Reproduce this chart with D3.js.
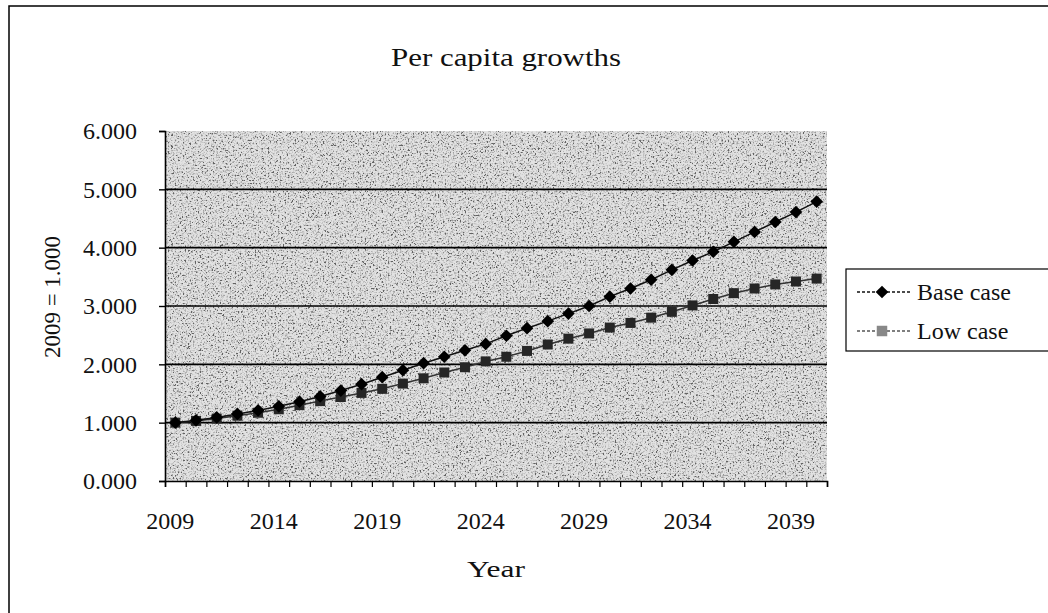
<!DOCTYPE html>
<html>
<head>
<meta charset="utf-8">
<script src="https://cdn.jsdelivr.net/npm/d3@7"></script>
<style>
  body { margin: 0; background: #fff; }
  text { font-family: "Liberation Serif", "Times New Roman", serif; }
</style>
</head>
<body>
<script>
var w = 1048;
var h = 613;

// data
var years = [2009, 2010, 2011, 2012, 2013, 2014, 2015, 2016, 2017, 2018,
             2019, 2020, 2021, 2022, 2023, 2024, 2025, 2026, 2027, 2028,
             2029, 2030, 2031, 2032, 2033, 2034, 2035, 2036, 2037, 2038,
             2039, 2040];
var baseCase = [1.00, 1.04, 1.09, 1.15, 1.21, 1.28, 1.36, 1.45, 1.55, 1.66,
                1.78, 1.90, 2.02, 2.13, 2.24, 2.35, 2.49, 2.62, 2.74, 2.87,
                3.00, 3.16, 3.30, 3.45, 3.62, 3.78, 3.93, 4.10, 4.27, 4.44,
                4.61, 4.79];
var lowCase = [1.00, 1.03, 1.07, 1.12, 1.17, 1.23, 1.30, 1.37, 1.44, 1.51,
               1.58, 1.67, 1.76, 1.86, 1.95, 2.05, 2.13, 2.23, 2.34, 2.44,
               2.53, 2.63, 2.71, 2.80, 2.90, 3.01, 3.12, 3.22, 3.30, 3.37,
               3.42, 3.47];
var xTickLabels = [2009, 2014, 2019, 2024, 2029, 2034, 2039];
var yTicks = [0, 1, 2, 3, 4, 5, 6];
var gridValues = [1, 2, 3, 4, 5];
var seriesNames = ["Base case", "Low case"];

// plot box ("top" is taken by window.top, so other names)
var pLeft = 165, pRight = 827, pTop = 131, pBottom = 481;

var svg = d3.select("body")
            .append("svg")
            .attr("width", w)
            .attr("height", h);

var defs = svg.append("defs");
var grain = defs.append("filter")
            .attr("id", "grain")
            .attr("x", 0).attr("y", 0)
            .attr("width", "100%").attr("height", "100%");
grain.append("feTurbulence")
     .attr("type", "fractalNoise")
     .attr("baseFrequency", "0.6")
     .attr("numOctaves", 2)
     .attr("seed", 7);
grain.append("feColorMatrix")
     .attr("type", "matrix")
     .attr("values", "2.4 2.4 2.4 0 -2.75  2.4 2.4 2.4 0 -2.75  2.4 2.4 2.4 0 -2.75  0 0 0 0 1");

// outer frame of the chart
svg.append("rect")
   .attr("x", 9).attr("y", 6)
   .attr("width", 1060).attr("height", 640)
   .attr("fill", "none")
   .attr("stroke", "#000")
   .attr("stroke-width", 1.5);

var x = d3.scaleBand().domain(years).range([pLeft, pRight]);
var xEdge = d3.scaleLinear().domain([0, years.length]).range([pLeft, pRight]);
var y = d3.scaleLinear().domain([0, 6]).range([pBottom, pTop]);

// plot area fill
svg.append("rect")
   .attr("x", pLeft).attr("y", pTop)
   .attr("width", pRight - pLeft).attr("height", pBottom - pTop)
   .attr("fill", "#c6c6c6");
svg.append("rect")
   .attr("x", pLeft).attr("y", pTop)
   .attr("width", pRight - pLeft).attr("height", pBottom - pTop)
   .attr("filter", "url(#grain)")
   .attr("opacity", 0.5);

// grid lines
svg.append("g")
   .selectAll("line")
   .data(gridValues)
   .enter()
   .append("line")
   .attr("x1", pLeft).attr("x2", pRight)
   .attr("y1", function(d){ return y(d); })
   .attr("y2", function(d){ return y(d); })
   .attr("stroke", "#000")
   .attr("stroke-width", 1.6);

// y axis
var yAxis = svg.append("g")
   .attr("transform", "translate(" + pLeft + ",0)")
   .call(d3.axisLeft(y).tickValues(yTicks).tickFormat(d3.format(".3f")).tickSize(6).tickPadding(22));
yAxis.select(".domain").attr("stroke-width", 1.6);
yAxis.selectAll(".tick line").attr("stroke-width", 1.4);
yAxis.selectAll("text").attr("font-size", 24).attr("font-family", "Liberation Serif").attr("fill", "#111");

// x axis: ticks at category edges, labels at category centres
var xAxisTicks = svg.append("g")
   .attr("transform", "translate(0," + pBottom + ")")
   .call(d3.axisBottom(xEdge).tickValues(d3.range(0, years.length + 1)).tickFormat("").tickSize(6));
xAxisTicks.select(".domain").attr("stroke-width", 1.6);
xAxisTicks.selectAll(".tick line").attr("stroke-width", 1.2);

var xAxisLabels = svg.append("g")
   .attr("transform", "translate(0," + pBottom + ")")
   .call(d3.axisBottom(x).tickValues(xTickLabels).tickSize(0).tickPadding(31));
xAxisLabels.select(".domain").remove();
xAxisLabels.selectAll("text")
   .attr("font-size", 24).attr("font-family", "Liberation Serif").attr("fill", "#111")
   .attr("dx", -5);

// series
var cx = function(i){ return x(years[i]) + x.bandwidth() / 2; };
var line = d3.line()
   .x(function(d, i){ return cx(i); })
   .y(function(d){ return y(d); });

svg.append("path")
   .datum(lowCase)
   .attr("d", line)
   .attr("fill", "none")
   .attr("stroke", "#333")
   .attr("stroke-width", 1.5);

svg.append("path")
   .datum(baseCase)
   .attr("d", line)
   .attr("fill", "none")
   .attr("stroke", "#111")
   .attr("stroke-width", 1.5);

svg.append("g")
   .selectAll("path")
   .data(lowCase)
   .enter()
   .append("path")
   .attr("transform", function(d, i){ return "translate(" + cx(i) + "," + y(d) + ")"; })
   .attr("d", d3.symbol().type(d3.symbolSquare).size(100))
   .attr("fill", "#262626");

// diamonds as squares turned 45 degrees
svg.append("g")
   .selectAll("path")
   .data(baseCase)
   .enter()
   .append("path")
   .attr("transform", function(d, i){ return "translate(" + cx(i) + "," + y(d) + ") rotate(45)"; })
   .attr("d", d3.symbol().type(d3.symbolSquare).size(80))
   .attr("fill", "#000");

// titles
svg.append("text")
   .text("Per capita growths")
   .attr("x", 506).attr("y", 66)
   .attr("text-anchor", "middle")
   .attr("font-size", 26)
   .attr("textLength", 230)
   .attr("lengthAdjust", "spacingAndGlyphs")
   .attr("fill", "#111");

svg.append("text")
   .text("Year")
   .attr("x", 496).attr("y", 577)
   .attr("text-anchor", "middle")
   .attr("font-size", 24)
   .attr("textLength", 58)
   .attr("lengthAdjust", "spacingAndGlyphs")
   .attr("fill", "#111");

svg.append("text")
   .text("2009 = 1.000")
   .attr("transform", "translate(60,297) rotate(-90)")
   .attr("text-anchor", "middle")
   .attr("font-family", "Liberation Sans")
   .attr("font-size", 23)
   .attr("fill", "#111");

// legend
var legend = svg.append("g");
legend.append("rect")
   .attr("x", 846).attr("y", 269)
   .attr("width", 210).attr("height", 82)
   .attr("fill", "#fff")
   .attr("stroke", "#000")
   .attr("stroke-width", 1.2);

var items = legend.selectAll("g.item")
   .data(seriesNames)
   .enter()
   .append("g")
   .attr("class", "item")
   .attr("transform", function(d, i){ return "translate(0," + (292 + i * 39) + ")"; });

items.append("line")
   .attr("x1", 857).attr("x2", 910)
   .attr("stroke", function(d, i){ return i == 0 ? "#111" : "#555"; })
   .attr("stroke-width", 1.3)
   .attr("stroke-dasharray", "3,2");

items.append("path")
   .attr("transform", function(d, i){ return i == 0 ? "translate(882,0) rotate(45)" : "translate(882,0)"; })
   .attr("d", function(d, i){
       return d3.symbol().type(d3.symbolSquare).size(i == 0 ? 80 : 110)();
   })
   .attr("fill", function(d, i){ return i == 0 ? "#000" : "#888"; });

items.append("text")
   .text(function(d){ return d; })
   .attr("x", 917)
   .attr("dy", "0.35em")
   .attr("font-size", 24)
   .attr("fill", "#111");
</script>
</body>
</html>
